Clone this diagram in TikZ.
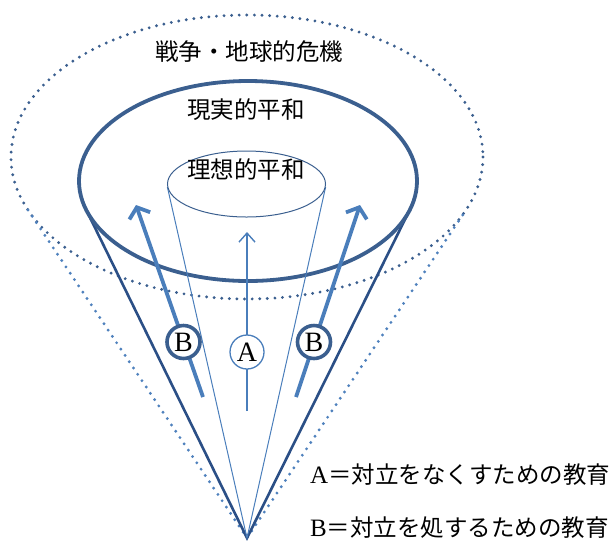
\documentclass[tikz,border=0pt]{standalone}
\usepackage{fontspec}
\setmainfont{Liberation Serif}
\newfontfamily\jp{Noto Sans CJK JP}
\usetikzlibrary{arrows.meta}
\definecolor{ringblue}{HTML}{3B5F8F}
\definecolor{coneblue}{HTML}{2B4F86}
\definecolor{arrowblue}{HTML}{4A7EBB}
\definecolor{dotblue}{HTML}{4F81BD}
\begin{document}
\begin{tikzpicture}[x=1pt,y=-1pt,
  dotline/.style={line width=3.2pt, line cap=round, dash pattern=on 0pt off 7.6pt},
  conethick/.style={coneblue, line width=2.6pt},
  conethin/.style={arrowblue, line width=1pt},
  barrow/.style={arrowblue, line width=3.8pt, -{Straight Barb[length=9pt,width=22pt]}},
  aarrow/.style={arrowblue, line width=1.4pt, -{Straight Barb[length=9pt,width=16pt]}},
  bcircle/.style={circle, draw=ringblue, line width=3.6pt, fill=white, minimum size=33pt, inner sep=0pt, font=\fontsize{28}{30}\selectfont},
  acircle/.style={circle, draw=arrowblue, line width=1.3pt, fill=white, minimum size=34pt, inner sep=0pt, font=\fontsize{28}{30}\selectfont},
  jtext/.style={font=\fontsize{23.5}{28}\selectfont\jp, inner sep=0pt},
  legend/.style={anchor=west, inner sep=0pt, font=\fontsize{25}{28}\selectfont}]
\useasboundingbox (0,0) rectangle (615,542);
% key points
\coordinate (apex) at (247,538);
\coordinate (outerC) at (247,157);
\coordinate (mainC) at (248,181);
\coordinate (innerC) at (246.5,184);
\coordinate (oL) at (28,210);
\coordinate (oR) at (466,210);
\coordinate (mL) at (85.8,209);
\coordinate (mR) at (410.2,209);
\coordinate (iL) at (167.4,187.1);
\coordinate (iR) at (325.6,187.1);
% outer dotted ring and cone
\draw[dotline, ringblue] (outerC) ellipse [x radius=236, y radius=142];
\draw[dotline, dotblue] (oL) -- (apex) -- (oR);
% main cone
\draw[conethick] (mL) -- (apex) -- (mR);
\draw[ringblue, line width=3.8pt] (mainC) ellipse [x radius=169, y radius=100];
% inner cone
\draw[conethin] (iL) -- (apex) -- (iR);
\draw[ringblue, line width=1pt] (innerC) ellipse [x radius=79, y radius=33];
% labels
\node[jtext] (war) at (249,52) {戦争・地球的危機};
\node[jtext] (real) at (246,110) {現実的平和};
\node[jtext] (ideal) at (246,170) {理想的平和};
% arrows
\coordinate (aS) at (247,411);
\coordinate (aE) at (247,232);
\draw[aarrow] (aS) -- (aE);
\coordinate (blS) at (203,397);
\coordinate (blE) at (136,205);
\draw[barrow] (blS) -- (blE);
\coordinate (brS) at (296,397);
\coordinate (brE) at (360,205);
\draw[barrow] (brS) -- (brE);
\node[acircle] (A) at (247,352) {A};
\node[bcircle] (BL) at (183.5,342) {B};
\node[bcircle] (BR) at (314,342) {B};
% legend
\node[legend] (legA) at (310,475) {A{\jp\fontsize{23.5}{28}\selectfont ＝対立をなくすための教育}};
\node[legend] (legB) at (310,528) {B{\jp\fontsize{23.5}{28}\selectfont ＝対立を処するための教育}};
\end{tikzpicture}
\end{document}
